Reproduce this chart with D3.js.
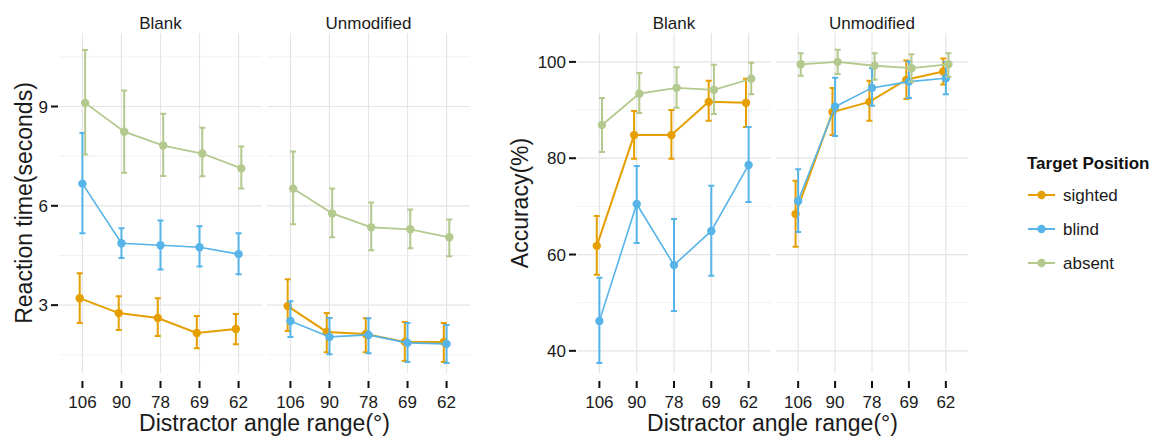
<!DOCTYPE html>
<html><head><meta charset="utf-8">
<script src="https://cdn.jsdelivr.net/npm/d3@7"></script>
<style>body{margin:0;background:#fff}svg{display:block;font-family:"Liberation Sans",Arial,sans-serif}</style>
</head><body><svg id="c" width="1163" height="436"></svg>
<script>
// ---------- data ----------
const angles = ["106", "90", "78", "69", "62"];
const conditions = ["Blank", "Unmodified"];
const positions = ["sighted", "blind", "absent"];
const colors = ["#E69F00", "#56B4E9", "#B3C98E"];

const rtTicks = [3, 6, 9];
const accTicks = [40, 60, 80, 100];

// Reaction time (seconds): mean, lower, upper
const rtBlankSighted   = [3.21, 2.76, 2.61, 2.16, 2.28];
const rtBlankSightedLo = [2.46, 2.25, 2.07, 1.70, 1.82];
const rtBlankSightedHi = [3.96, 3.27, 3.21, 2.67, 2.73];
const rtBlankBlind     = [6.67, 4.87, 4.81, 4.75, 4.54];
const rtBlankBlindLo   = [5.17, 4.42, 4.08, 4.17, 3.93];
const rtBlankBlindHi   = [8.20, 5.32, 5.56, 5.38, 5.17];
const rtBlankAbsent    = [9.11, 8.24, 7.82, 7.58, 7.13];
const rtBlankAbsentLo  = [7.55, 7.00, 6.90, 6.89, 6.52];
const rtBlankAbsentHi  = [10.71, 9.48, 8.78, 8.36, 7.79];
const rtUnmodSighted   = [2.97, 2.19, 2.13, 1.89, 1.89];
const rtUnmodSightedLo = [2.22, 1.58, 1.58, 1.31, 1.28];
const rtUnmodSightedHi = [3.78, 2.76, 2.60, 2.49, 2.46];
const rtUnmodBlind     = [2.52, 2.04, 2.10, 1.86, 1.83];
const rtUnmodBlindLo   = [2.04, 1.52, 1.55, 1.28, 1.25];
const rtUnmodBlindHi   = [3.12, 2.61, 2.60, 2.46, 2.40];
const rtUnmodAbsent    = [6.52, 5.77, 5.35, 5.29, 5.05];
const rtUnmodAbsentLo  = [5.44, 5.05, 4.66, 4.72, 4.48];
const rtUnmodAbsentHi  = [7.64, 6.52, 6.10, 5.89, 5.59];

// Accuracy (%): mean, lower, upper
const accBlankSighted   = [61.8, 84.8, 84.8, 91.7, 91.5];
const accBlankSightedLo = [55.8, 79.9, 79.9, 87.8, 86.5];
const accBlankSightedHi = [68.0, 89.8, 90.0, 96.1, 96.5];
const accBlankBlind     = [46.2, 70.5, 57.8, 64.9, 78.6];
const accBlankBlindLo   = [37.5, 62.4, 48.3, 55.6, 70.9];
const accBlankBlindHi   = [55.2, 78.4, 67.4, 74.3, 86.5];
const accBlankAbsent    = [86.9, 93.4, 94.6, 94.2, 96.5];
const accBlankAbsentLo  = [81.3, 89.4, 90.5, 89.2, 93.3];
const accBlankAbsentHi  = [92.5, 97.7, 98.9, 99.4, 99.8];
const accUnmodSighted   = [68.4, 89.6, 91.7, 96.3, 98.0];
const accUnmodSightedLo = [61.6, 84.8, 87.8, 92.3, 95.3];
const accUnmodSightedHi = [75.3, 94.6, 96.1, 100.3, 100.7];
const accUnmodBlind     = [71.1, 90.7, 94.6, 95.9, 96.6];
const accUnmodBlindLo   = [64.7, 84.6, 90.9, 92.5, 93.3];
const accUnmodBlindHi   = [77.7, 96.7, 98.7, 100.1, 100.0];
const accUnmodAbsent    = [99.5, 100.0, 99.2, 98.7, 99.5];
const accUnmodAbsentLo  = [97.1, 97.5, 96.3, 95.9, 96.9];
const accUnmodAbsentHi  = [101.8, 102.5, 101.8, 101.6, 101.8];

const rtData = {
  Blank: [[rtBlankSighted, rtBlankSightedLo, rtBlankSightedHi],
          [rtBlankBlind, rtBlankBlindLo, rtBlankBlindHi],
          [rtBlankAbsent, rtBlankAbsentLo, rtBlankAbsentHi]],
  Unmodified: [[rtUnmodSighted, rtUnmodSightedLo, rtUnmodSightedHi],
          [rtUnmodBlind, rtUnmodBlindLo, rtUnmodBlindHi],
          [rtUnmodAbsent, rtUnmodAbsentLo, rtUnmodAbsentHi]]
};
const accData = {
  Blank: [[accBlankSighted, accBlankSightedLo, accBlankSightedHi],
          [accBlankBlind, accBlankBlindLo, accBlankBlindHi],
          [accBlankAbsent, accBlankAbsentLo, accBlankAbsentHi]],
  Unmodified: [[accUnmodSighted, accUnmodSightedLo, accUnmodSightedHi],
          [accUnmodBlind, accUnmodBlindLo, accUnmodBlindHi],
          [accUnmodAbsent, accUnmodAbsentLo, accUnmodAbsentHi]]
};

// ---------- drawing ----------
const svg = d3.select("#c");
const pTop = 33, pBottom = 373;
const lineW = [2, 1.6, 1.8];

function drawChart(cfg) {
  const y = d3.scaleLinear().domain(cfg.yDomain).range([pBottom, pTop]);
  const g = svg.append("g");
  const minorTicks = cfg.minor;

  cfg.panels.forEach((pr, pi) => {
    const cond = conditions[pi];
    const x = d3.scalePoint().domain(angles).range(pr).padding(0.6);
    const step = x.step();
    const p = g.append("g");
    p.selectAll(".mn").data(minorTicks).join("line")
      .attr("x1", pr[0]).attr("x2", pr[1])
      .attr("y1", d => y(d)).attr("y2", d => y(d))
      .attr("stroke", "#f2f2f2").attr("stroke-width", 1);
    p.selectAll(".mj").data(cfg.ticks).join("line")
      .attr("x1", pr[0]).attr("x2", pr[1])
      .attr("y1", d => y(d)).attr("y2", d => y(d))
      .attr("stroke", "#e4e4e4").attr("stroke-width", 1.2);
    p.selectAll(".vg").data(angles).join("line")
      .attr("x1", d => x(d)).attr("x2", d => x(d))
      .attr("y1", pTop).attr("y2", pBottom)
      .attr("stroke", "#e4e4e4").attr("stroke-width", 1.2);
    p.append("text").attr("x", (pr[0] + pr[1]) / 2).attr("y", 29)
      .attr("text-anchor", "middle").attr("font-size", 17).attr("fill", "#1a1a1a")
      .text(cond);
    p.selectAll(".xt").data(angles).join("line")
      .attr("x1", d => x(d)).attr("x2", d => x(d))
      .attr("y1", pBottom + 8).attr("y2", pBottom + 15)
      .attr("stroke", "#111").attr("stroke-width", 2);
    p.selectAll(".xl").data(angles).join("text")
      .attr("x", d => x(d)).attr("y", pBottom + 35)
      .attr("text-anchor", "middle").attr("font-size", 17).attr("fill", "#1a1a1a")
      .text(d => d);

    const series = cfg.data[cond];
    series.forEach((s, si) => {
      const off = (si - 1) * 0.07 * step;
      const col = colors[si];
      const pts = angles.map((a, i) => ({ x: x(a) + off, m: s[0][i], lo: s[1][i], hi: s[2][i] }));
      const sg = p.append("g");
      sg.selectAll(".eb").data(pts).join("path")
        .attr("d", d => `M${d.x - 3},${y(d.hi)}H${d.x + 3}M${d.x},${y(d.hi)}V${y(d.lo)}M${d.x - 3},${y(d.lo)}H${d.x + 3}`)
        .attr("stroke", col).attr("stroke-width", 2).attr("fill", "none");
      sg.append("path").datum(pts)
        .attr("d", d3.line().x(d => d.x).y(d => y(d.m)))
        .attr("stroke", col).attr("stroke-width", lineW[si]).attr("fill", "none");
      sg.selectAll(".pt").data(pts).join("circle")
        .attr("cx", d => d.x).attr("cy", d => y(d.m)).attr("r", 4.2).attr("fill", col);
    });
  });

  const yl = cfg.panels[0][0];
  g.selectAll(".yt").data(cfg.ticks).join("line")
    .attr("x1", yl - 8).attr("x2", yl - 1)
    .attr("y1", d => y(d)).attr("y2", d => y(d))
    .attr("stroke", "#111").attr("stroke-width", 2);
  g.selectAll(".yl").data(cfg.ticks).join("text")
    .attr("x", yl - 11).attr("y", d => y(d)).attr("dy", "0.36em")
    .attr("text-anchor", "end").attr("font-size", 17).attr("fill", "#1a1a1a")
    .text(d => d);
  const cx = (cfg.panels[0][0] + cfg.panels[1][1]) / 2;
  g.append("text").attr("x", cx).attr("y", 431).attr("text-anchor", "middle")
    .attr("font-size", 23).attr("fill", "#1a1a1a").text("Distractor angle range(°)");
  g.append("text").attr("transform", `translate(${cfg.yTitleX},${(pTop + pBottom) / 2}) rotate(-90)`)
    .attr("text-anchor", "middle").attr("font-size", 23).attr("fill", "#1a1a1a").text(cfg.yTitle);
}

drawChart({
  panels: [[59, 262], [267, 470]],
  yDomain: [0.95, 11.22], ticks: rtTicks, minor: [1.5, 4.5, 7.5, 10.5],
  data: rtData, yTitle: "Reaction time(seconds)", yTitleX: 32
});
drawChart({
  panels: [[577, 771], [776, 968]],
  yDomain: [35.4, 106], ticks: accTicks, minor: [50, 70, 90],
  data: accData, yTitle: "Accuracy(%)", yTitleX: 528
});

const lg = svg.append("g");
lg.append("text").attr("x", 1027).attr("y", 169).attr("font-size", 17)
  .attr("font-weight", "bold").attr("fill", "#111").text("Target Position");
positions.forEach((p, i) => {
  const yy = 195 + i * 34;
  lg.append("line").attr("x1", 1028).attr("x2", 1055).attr("y1", yy).attr("y2", yy)
    .attr("stroke", colors[i]).attr("stroke-width", 2);
  lg.append("circle").attr("cx", 1041.5).attr("cy", yy).attr("r", 4.2).attr("fill", colors[i]);
  lg.append("text").attr("x", 1063).attr("y", yy).attr("dy", "0.36em").attr("font-size", 17)
    .attr("fill", "#1a1a1a").text(p);
});
</script></body></html>
